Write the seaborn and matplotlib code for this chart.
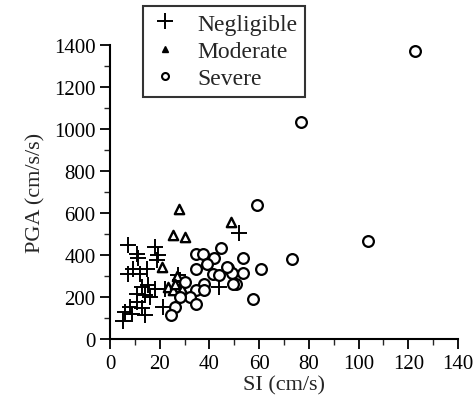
import numpy as np
import pandas as pd
import matplotlib
matplotlib.use("Agg")
import matplotlib.pyplot as plt
from matplotlib.ticker import MultipleLocator
import seaborn as sns

# SI (cm/s) and PGA (cm/s/s)
negl_si = [5.3, 6, 8, 7.3, 7.3, 9.3, 10.7, 10.7, 10.7, 11.3, 12, 12.7, 14, 14,
           14.7, 15.3, 18, 18, 19.3, 19, 21.3, 27.3, 26.7, 28, 44, 52, 16, 13, 9, 22]
negl_pga = [88, 128, 152, 310, 447, 333, 216, 176, 407, 386, 310, 248, 112, 208,
            333, 256, 240, 440, 399, 375, 152, 303, 224, 280, 248, 505, 200, 150, 120, 240]

mod_si = [27.7, 48.7, 25.3, 30, 21, 23.3, 25.3, 27, 29, 26]
mod_pga = [618, 555, 495, 487, 345, 248, 232, 300, 240, 262]

sev_si = [122.7, 77, 103.6, 59, 73.3, 53.6, 60.7, 53.7, 50.7, 57.6, 44.7, 34.7,
          37.3, 42, 39, 47.3, 41.3, 44, 49.3, 38, 34.7, 34.7, 32, 34.7, 26, 24.7,
          30, 48.9, 46.9, 38, 28]
sev_pga = [1370, 1035, 468, 639, 379, 388, 331, 312, 264, 192, 431, 407,
           407, 388, 356, 340, 308, 303, 264, 264, 331, 235, 200, 168, 152, 112,
           272, 315, 343, 232, 200]

sns.set_style("white")
plt.rcParams['font.family'] = ['Liberation Serif', 'DejaVu Serif']

fig = plt.figure(figsize=(4.75, 4.1), dpi=100)
ax = fig.add_axes([110/475, 1 - 340/410, 348/475, 294/410])

sns.scatterplot(x=negl_si, y=negl_pga, marker='+', s=140, color='black',
                linewidth=1.4, ax=ax, label='Negligible')
sns.scatterplot(x=mod_si, y=mod_pga, marker='^', s=45, facecolor='white',
                edgecolor='black', linewidth=1.7, ax=ax, label='Moderate')
sns.scatterplot(x=sev_si, y=sev_pga, marker='o', s=60, facecolor='white',
                edgecolor='black', linewidth=1.6, ax=ax, label='Severe')

ax.set_xlim(0, 140)
ax.set_ylim(0, 1400)
ax.xaxis.set_major_locator(MultipleLocator(20))
ax.xaxis.set_minor_locator(MultipleLocator(10))
ax.yaxis.set_major_locator(MultipleLocator(200))
ax.yaxis.set_minor_locator(MultipleLocator(100))
ax.tick_params(which='major', direction='out', length=7, width=1.3,
               labelsize=15, left=True, bottom=True, colors='black')
ax.tick_params(which='minor', direction='out', length=4, width=1.0,
               left=True, bottom=True)
for side in ['top', 'right']:
    ax.spines[side].set_visible(False)
for side in ['left', 'bottom']:
    ax.spines[side].set_linewidth(1.5)
    ax.spines[side].set_color('black')

ax.set_xlabel("SI (cm/s)", fontsize=16, labelpad=2)
ax.set_ylabel("PGA (cm/s/s)", fontsize=16, labelpad=6)

ax.get_legend().remove()
handles = [
    plt.Line2D([], [], marker='+', color='black', linestyle='none', markersize=11, markeredgewidth=1.4),
    plt.Line2D([], [], marker='^', color='black', linestyle='none', markersize=5),
    plt.Line2D([], [], marker='o', markerfacecolor='white', markeredgecolor='black',
               linestyle='none', markersize=5, markeredgewidth=1.5),
]
leg = fig.legend(handles, ['Negligible', 'Moderate', 'Severe'], loc='upper left',
                 bbox_to_anchor=(143/475, 1 - 7/410), fontsize=17, frameon=True,
                 fancybox=False, borderpad=0.3, labelspacing=0.25,
                 handletextpad=0.7, handlelength=1.3, borderaxespad=0)
leg.get_frame().set_edgecolor('black')
leg.get_frame().set_linewidth(1.5)

fig.savefig("out.png", dpi=100)
